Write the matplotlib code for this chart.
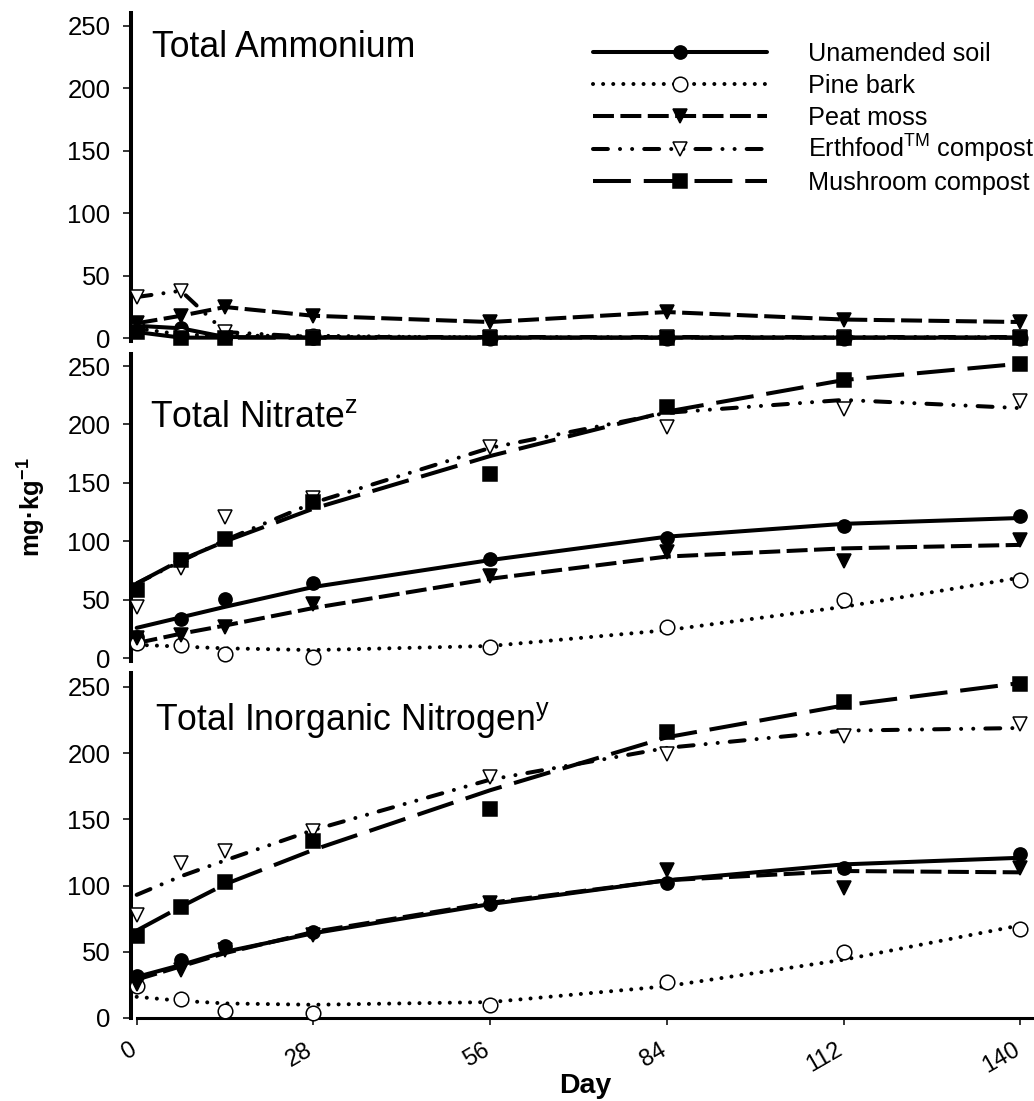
import matplotlib
matplotlib.use("Agg")
import matplotlib.pyplot as plt
from matplotlib.lines import Line2D
from matplotlib.transforms import ScaledTranslation

matplotlib.rcParams.update({
    'font.family': ['Liberation Sans', 'DejaVu Sans'],
    'mathtext.fontset': 'custom',
    'mathtext.rm': 'Liberation Sans',
    'mathtext.it': 'Liberation Sans:italic',
    'mathtext.bf': 'Liberation Sans:bold',
    'mathtext.sf': 'Liberation Sans',
})

days = [0, 7, 14, 28, 56, 84, 112, 140]
labels = ["Unamended soil", "Pine bark", "Peat moss",
          r"Erthfood$^{\rm TM}$ compost", "Mushroom compost"]

# Total ammonium, mg/kg (lines join the points)
nh4_soil = [10, 8, 1, 0.5, 0.5, 0.5, 0.5, 0.5]
nh4_pine = [8, 3, 2, 2, 0.5, 0.5, 0.5, 0.5]
nh4_peat = [12, 18, 25, 18, 13, 21, 15, 13]
nh4_erth = [33, 38, 5, 1, 1, 1, 1, 1]
nh4_mush = [5, 0.5, 0.5, 0.5, 0.5, 0.5, 0.5, 0.5]

# Total nitrate, observed
no3_soil = [18, 34, 51, 64, 85, 103, 113, 122]
no3_pine = [13, 11, 4, 1.5, 10, 27, 50, 67]
no3_peat = [17, 20, 27, 46, 70, 91, 83, 101]
no3_erth = [44, 77, 121, 137, 181, 198, 213, 220]
no3_mush = [58, 84, 102, 134, 158, 215, 238, 252]
# Total nitrate, fitted curves
no3_soil_fit = [26, 35, 44, 61, 84, 104, 115, 120]
no3_pine_fit = [11.5, 10, 8.5, 7, 10.5, 24, 44, 69]
no3_peat_fit = [13, 21, 28, 43, 68, 87, 94, 97]
no3_erth_fit = [64, 83, 101, 133, 180, 210, 221, 214]
no3_mush_fit = [64, 84, 100, 128, 173, 211, 238, 252]

# Total inorganic nitrogen, observed
tin_soil = [32, 44, 54, 65, 86, 102, 113, 124]
tin_pine = [24, 14, 5, 3.5, 10, 27, 50, 67]
tin_peat = [26, 36, 51, 63, 87, 112, 98, 113]
tin_erth = [78, 117, 126, 141, 182, 199, 213, 222]
tin_mush = [62, 84, 103, 134, 158, 216, 239, 252]
# Total inorganic nitrogen, fitted curves
tin_soil_fit = [31, 40, 50, 64, 86, 104, 116, 121]
tin_pine_fit = [16, 13, 11, 10, 12, 24, 44, 70]
tin_peat_fit = [29, 39, 49, 65, 87, 104, 111, 110]
tin_erth_fit = [93, 107, 119, 142, 180, 204, 217, 219]
tin_mush_fit = [66, 84, 101, 127, 172, 212, 236, 253]

LW = 2.9
styles = [
    dict(ls='-', marker='o', mfc='black', ms=9.5, solid_capstyle='round'),
    dict(ls=(0, (0.01, 2.5)), marker='o', mfc='white', ms=10.5, dash_capstyle='round'),
    dict(ls=(0, (5.2, 1.6)), marker='v', mfc='black', ms=10),
    dict(ls=(0, (3.7, 3.0, 0.01, 3.0, 0.01, 3.0)), marker='v', mfc='white', ms=10.5,
         dash_capstyle='round'),
    dict(ls=(0, (9.4, 3.2)), marker='s', mfc='black', ms=9.5),
]


def line_kw(st):
    return {k: v for k, v in st.items() if k not in ('marker', 'mfc', 'ms')}


W, H = 1034, 1101
fig = plt.figure(figsize=(W / 100, H / 100), dpi=100)
left, width = 130.5 / W, 902.5 / W
ax1 = fig.add_axes([left, 0.6905, width, 0.2978])
ax2 = fig.add_axes([left, 0.4000, width, 0.2787])
ax3 = fig.add_axes([left, 0.07539, width, 0.3133])

for ax in (ax1, ax2, ax3):
    ax.set_xlim(-0.98, 142)
    ax.set_yticks([0, 50, 100, 150, 200, 250])
    for s in ('top', 'right', 'bottom'):
        ax.spines[s].set_visible(False)
    ax.spines['left'].set_linewidth(2.9)
    ax.tick_params(axis='y', direction='out', length=6, width=1.1, pad=8.5, labelsize=18.5)
    ax.set_facecolor('none')

ax1.set_ylim(-2, 260.5)
ax2.set_ylim(-2, 260.5)
ax3.set_ylim(0, 260.5)
ax1.set_xticks([])
ax2.set_xticks([])

ax3.spines['bottom'].set_visible(True)
ax3.spines['bottom'].set_linewidth(2.2)
ax3.spines['bottom'].set_bounds(0, 142)
ax3.set_xticks([0, 28, 56, 84, 112, 140])
ax3.tick_params(axis='x', direction='out', length=5, width=1.1, pad=10, labelsize=17,
                labelrotation=30)
shift = ScaledTranslation(3 / 100, 0, fig.dpi_scale_trans)
for t in ax3.get_xticklabels():
    t.set_ha('right')
    t.set_transform(t.get_transform() + shift)

# ammonium: straight lines through the data
for vals, st in zip([nh4_soil, nh4_pine, nh4_peat, nh4_erth, nh4_mush], styles):
    ax1.plot(days, vals, color='black', lw=LW, mec='black', mew=1.1,
             clip_on=False, zorder=3, **st)

# nitrate and total N: fitted curves plus data markers
panels = [
    (ax2, [no3_soil, no3_pine, no3_peat, no3_erth, no3_mush],
     [no3_soil_fit, no3_pine_fit, no3_peat_fit, no3_erth_fit, no3_mush_fit]),
    (ax3, [tin_soil, tin_pine, tin_peat, tin_erth, tin_mush],
     [tin_soil_fit, tin_pine_fit, tin_peat_fit, tin_erth_fit, tin_mush_fit]),
]
for ax, obs, fits in panels:
    for o, f, st in zip(obs, fits, styles):
        ax.plot(days, f, color='black', lw=LW, clip_on=False, zorder=2, **line_kw(st))
        ax.plot(days, o, ls='none', marker=st['marker'], mfc=st['mfc'], mec='black',
                ms=st['ms'], mew=1.1, clip_on=False, zorder=3)

# legend, drawn by hand so the rows are evenly spaced
for i, (lab, st) in enumerate(zip(labels, styles)):
    yy = 1 - (51.7 + 32.3 * i) / H
    fig.add_artist(Line2D([593 / W, 767 / W], [yy, yy], color='black', lw=LW,
                          transform=fig.transFigure, **line_kw(st)))
    fig.add_artist(Line2D([680 / W], [yy], ls='none', marker=st['marker'], mfc=st['mfc'],
                          mec='black', ms=st['ms'], mew=1.1, transform=fig.transFigure))
    fig.text(808 / W, yy - 9 / H, lab, fontsize=18.2, va='baseline')

fig.text(152 / W, 1 - 56.7 / H, "Total Ammonium", fontsize=25.7, va='baseline')
fig.text(150 / W, 1 - 427 / H, r"Total Nitrate$^{\rm z}$", fontsize=25.7, va='baseline')
fig.text(155 / W, 1 - 730 / H, r"Total Inorganic Nitrogen$^{\rm y}$", fontsize=25.7,
         va='baseline')

fig.text(32 / W, 1 - 507 / H, r"mg·kg$^{\mathbf{-1}}$", fontsize=18.5, fontweight='bold',
         rotation=90, ha='center', va='center')
fig.text(585 / W, 1 - 1093 / H, "Day", fontsize=20.5, fontweight='bold',
         ha='center', va='baseline')

fig.savefig("out.png", dpi=100)
